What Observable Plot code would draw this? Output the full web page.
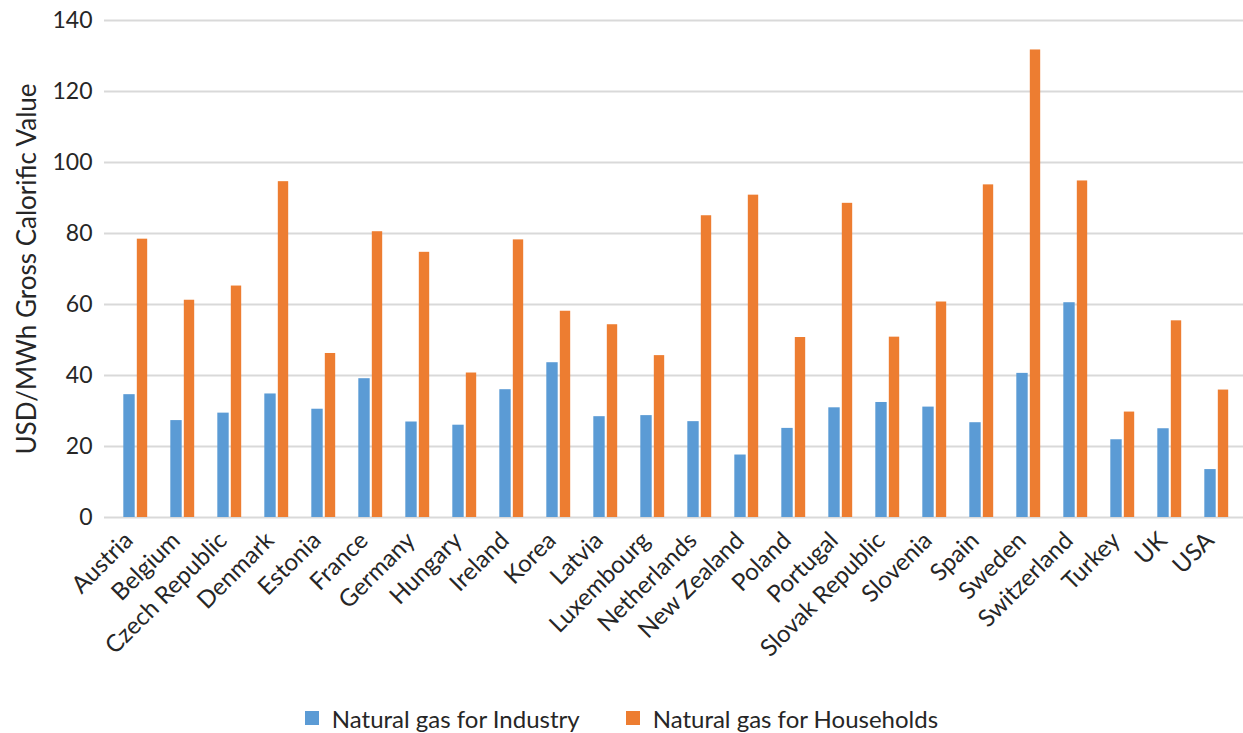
<!DOCTYPE html>
<html><head><meta charset="utf-8">
<script src="https://cdn.jsdelivr.net/npm/d3@7"></script>
<script src="https://cdn.jsdelivr.net/npm/@observablehq/plot@0.6"></script>
<style>
body{margin:0;background:#fff;font-family:Lato,sans-serif;overflow:hidden;}
#legend{display:flex;justify-content:center;align-items:center;height:30px;font-size:24px;color:#262626;}
.item{display:flex;align-items:center;margin:0 23px;}
.sw{width:14px;height:14px;margin-right:13px;}
</style></head><body><div id="chart"></div><div id="legend"></div>
<script>
const countries = ["Austria","Belgium","Czech Republic","Denmark","Estonia","France","Germany","Hungary","Ireland","Korea","Latvia","Luxembourg","Netherlands","New Zealand","Poland","Portugal","Slovak Republic","Slovenia","Spain","Sweden","Switzerland","Turkey","UK","USA"];
const industry = [34.6,27.3,29.4,34.8,30.5,39.1,26.9,26.0,36.0,43.6,28.4,28.7,27.0,17.6,25.1,30.9,32.4,31.1,26.7,40.6,60.5,21.9,25.0,13.5];
const households = [78.4,61.2,65.2,94.6,46.2,80.5,74.7,40.7,78.2,58.1,54.3,45.6,85.0,90.8,50.7,88.5,50.8,60.7,93.7,131.7,94.8,29.7,55.4,35.9];
const seriesNames = ["Natural gas for Industry","Natural gas for Households"];
const colors = ["#5b9bd5","#ed7d31"];
const yTicks = [0,20,40,60,80,100,120,140];
const yLabel = "USD/MWh Gross Calorific Value";

const rows = countries.map((c,i)=>({country:c, industry:industry[i], households:households[i]}));
const W=1243, H=703, mL=104, xRight=1247;
const step = (xRight-mL)/countries.length;
const plot = Plot.plot({
  width:W, height:H, marginLeft:mL, marginRight:0, marginTop:20, marginBottom:186,
  style:{fontFamily:"Lato", fontSize:"24px", color:"#262626", background:"#fff", overflow:"hidden"},
  x:{domain:countries, padding:0, range:[mL, xRight], label:null},
  y:{domain:[0,140], label:null},
  marks:[
    Plot.gridY(yTicks,{stroke:"#d9d9d9", strokeOpacity:1, strokeWidth:2}),
    Plot.barY(rows,{x:"country", y:"industry", fill:colors[0], insetLeft: step/2-12.5, insetRight: step/2+0.5}),
    Plot.barY(rows,{x:"country", y:"households", fill:colors[1], insetLeft: step/2+1, insetRight: step/2-12}),
    Plot.axisY(yTicks,{tickSize:0, tickPadding:12, fontSize:23, label:null}),
    Plot.axisY({ticks:[], tickSize:0, label:yLabel, labelAnchor:"center", labelArrow:"none", labelOffset:87, fontSize:26}),
    Plot.axisX({tickSize:0, tickRotate:-45, fontSize:24, tickPadding:14, dx:-7, dy:5, label:null})
  ]
});
document.getElementById("chart").appendChild(plot);
const lg = document.getElementById("legend");
seriesNames.forEach((n,i)=>{
  const it=document.createElement("div"); it.className="item";
  it.innerHTML=`<span class="sw" style="background:${colors[i]}"></span><span>${n}</span>`;
  lg.appendChild(it);
});
</script></body></html>
